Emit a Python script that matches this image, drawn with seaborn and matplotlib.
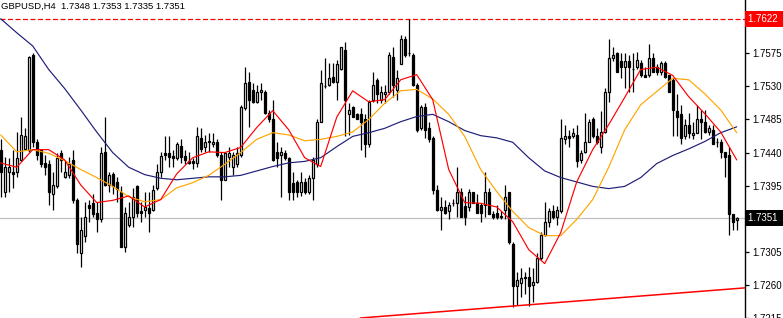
import numpy as np
import pandas as pd
import matplotlib
matplotlib.use("Agg")
import matplotlib.pyplot as plt
import seaborn as sns

symbol_title = "GBPUSD,H4  1.7348 1.7353 1.7335 1.7351"

opens = [1.7444,1.7387,1.7413,1.7414,1.7413,1.7430,1.7445,1.7444,1.7573,1.7455,
         1.7443,1.7426,1.7424,1.7383,1.7394,1.7440,1.7407,1.7410,1.7430,1.7375,
         1.7304,1.7326,1.7369,1.7372,1.7358,1.7349,1.7441,1.7396,1.7411,1.7400,
         1.7387,1.7312,1.7342,1.7353,1.7394,1.7360,1.7362,1.7364,1.7362,1.7392,
         1.7413,1.7440,1.7440,1.7436,1.7432,1.7449,1.7436,1.7428,1.7428,1.7426,
         1.7460,1.7447,1.7456,1.7452,1.7454,1.7437,1.7403,1.7434,1.7421,1.7425,
         1.7437,1.7501,1.7536,1.7525,1.7509,1.7523,1.7523,1.7494,1.7485,1.7441,
         1.7437,1.7440,1.7433,1.7399,1.7400,1.7386,1.7400,1.7386,1.7406,1.7424,
         1.7482,1.7531,1.7532,1.7543,1.7536,1.7554,1.7580,1.7492,1.7502,1.7492,
         1.7492,1.7485,1.7451,1.7512,1.7539,1.7512,1.7520,1.7522,1.7570,1.7525,
         1.7561,1.7595,1.7576,1.7573,1.7532,1.7473,1.7502,1.7474,1.7460,1.7389,
         1.7362,1.7366,1.7360,1.7371,1.7372,1.7387,1.7368,1.7366,1.7386,1.7372,
         1.7369,1.7369,1.7386,1.7356,1.7358,1.7352,1.7362,1.7386,1.7315,1.7258,
         1.7263,1.7271,1.7271,1.7260,1.7264,1.7297,1.7328,1.7345,1.7360,1.7352,
         1.7360,1.7459,1.7462,1.7462,1.7464,1.7430,1.7441,1.7455,1.7485,1.7462,
         1.7447,1.7468,1.7523,1.7568,1.7576,1.7564,1.7557,1.7564,1.7554,1.7556,
         1.7562,1.7546,1.7546,1.7568,1.7556,1.7549,1.7562,1.7545,1.7539,1.7496,
         1.7492,1.7462,1.7477,1.7464,1.7467,1.7486,1.7482,1.7468,1.7471,1.7455,
         1.7454,1.7441,1.7437,1.7356,1.7348]
highs = [1.7458,1.7434,1.7433,1.7444,1.7468,1.7489,1.7474,1.7571,1.7576,1.7458,
         1.7444,1.7437,1.7430,1.7413,1.7440,1.7444,1.7430,1.7434,1.7444,1.7378,
         1.7352,1.7373,1.7375,1.7383,1.7373,1.7448,1.7488,1.7414,1.7414,1.7407,
         1.7394,1.7366,1.7373,1.7392,1.7396,1.7373,1.7386,1.7386,1.7396,1.7424,
         1.7441,1.7462,1.7462,1.7444,1.7455,1.7458,1.7444,1.7441,1.7433,1.7475,
         1.7474,1.7464,1.7467,1.7467,1.7458,1.7441,1.7441,1.7447,1.7441,1.7447,
         1.7505,1.7556,1.7550,1.7535,1.7532,1.7535,1.7525,1.7498,1.7512,1.7455,
         1.7448,1.7444,1.7434,1.7413,1.7403,1.7414,1.7405,1.7410,1.7434,1.7485,
         1.7552,1.7569,1.7562,1.7562,1.7566,1.7583,1.7591,1.7508,1.7504,1.7494,
         1.7501,1.7492,1.7512,1.7549,1.7542,1.7530,1.7532,1.7577,1.7583,1.7552,
         1.7600,1.7598,1.7622,1.7576,1.7535,1.7505,1.7508,1.7482,1.7462,1.7396,
         1.7379,1.7375,1.7373,1.7377,1.7420,1.7392,1.7381,1.7390,1.7387,1.7383,
         1.7372,1.7413,1.7392,1.7360,1.7369,1.7360,1.7396,1.7387,1.7318,1.7278,
         1.7283,1.7278,1.7285,1.7283,1.7304,1.7332,1.7373,1.7365,1.7369,1.7368,
         1.7485,1.7477,1.7471,1.7474,1.7478,1.7444,1.7494,1.7485,1.7488,1.7474,
         1.7496,1.7528,1.7595,1.7583,1.7577,1.7576,1.7576,1.7573,1.7576,1.7577,
         1.7566,1.7557,1.7587,1.7576,1.7560,1.7564,1.7564,1.7546,1.7542,1.7519,
         1.7505,1.7485,1.7494,1.7481,1.7505,1.7498,1.7498,1.7478,1.7478,1.7460,
         1.7458,1.7441,1.7447,1.7356,1.7353]
lows = [1.7379,1.7379,1.7387,1.7392,1.7407,1.7428,1.7444,1.7441,1.7448,1.7430,
        1.7420,1.7410,1.7369,1.7362,1.7392,1.7413,1.7406,1.7405,1.7372,1.7304,
        1.7285,1.7319,1.7345,1.7353,1.7332,1.7346,1.7394,1.7387,1.7383,1.7373,
        1.7311,1.7305,1.7339,1.7339,1.7353,1.7345,1.7353,1.7332,1.7360,1.7389,
        1.7407,1.7430,1.7421,1.7420,1.7430,1.7426,1.7424,1.7424,1.7417,1.7421,
        1.7441,1.7441,1.7441,1.7447,1.7434,1.7375,1.7403,1.7421,1.7410,1.7421,
        1.7434,1.7498,1.7475,1.7508,1.7508,1.7512,1.7493,1.7482,1.7428,1.7420,
        1.7380,1.7430,1.7375,1.7375,1.7380,1.7381,1.7383,1.7383,1.7375,1.7421,
        1.7481,1.7528,1.7531,1.7535,1.7512,1.7552,1.7462,1.7464,1.7488,1.7485,
        1.7444,1.7434,1.7448,1.7509,1.7508,1.7508,1.7508,1.7519,1.7516,1.7512,
        1.7560,1.7570,1.7572,1.7530,1.7468,1.7471,1.7460,1.7455,1.7383,1.7360,
        1.7335,1.7356,1.7349,1.7368,1.7353,1.7352,1.7342,1.7360,1.7371,1.7358,
        1.7346,1.7352,1.7356,1.7349,1.7349,1.7349,1.7349,1.7315,1.7230,1.7233,
        1.7244,1.7247,1.7232,1.7237,1.7263,1.7294,1.7326,1.7339,1.7349,1.7342,
        1.7358,1.7451,1.7447,1.7460,1.7420,1.7426,1.7440,1.7454,1.7460,1.7451,
        1.7440,1.7467,1.7509,1.7564,1.7549,1.7542,1.7528,1.7523,1.7523,1.7553,
        1.7543,1.7543,1.7543,1.7549,1.7546,1.7546,1.7542,1.7522,1.7462,1.7462,
        1.7451,1.7458,1.7460,1.7458,1.7467,1.7458,1.7467,1.7464,1.7451,1.7447,
        1.7433,1.7407,1.7328,1.7335,1.7335]
closes = [1.7414,1.7420,1.7420,1.7411,1.7432,1.7464,1.7463,1.7570,1.7454,1.7437,
          1.7424,1.7421,1.7386,1.7396,1.7432,1.7430,1.7413,1.7424,1.7375,1.7315,
          1.7335,1.7352,1.7365,1.7356,1.7349,1.7440,1.7396,1.7410,1.7394,1.7390,
          1.7312,1.7358,1.7353,1.7380,1.7358,1.7358,1.7366,1.7358,1.7389,1.7414,
          1.7436,1.7437,1.7434,1.7433,1.7451,1.7434,1.7430,1.7426,1.7426,1.7462,
          1.7445,1.7455,1.7455,1.7455,1.7437,1.7403,1.7440,1.7440,1.7437,1.7440,
          1.7502,1.7535,1.7512,1.7509,1.7523,1.7525,1.7494,1.7485,1.7430,1.7433,
          1.7441,1.7433,1.7387,1.7387,1.7387,1.7400,1.7386,1.7406,1.7430,1.7482,
          1.7535,1.7530,1.7542,1.7536,1.7560,1.7583,1.7512,1.7498,1.7489,1.7486,
          1.7482,1.7451,1.7509,1.7532,1.7519,1.7523,1.7522,1.7573,1.7532,1.7541,
          1.7595,1.7573,1.7575,1.7532,1.7471,1.7502,1.7471,1.7458,1.7389,1.7362,
          1.7366,1.7358,1.7369,1.7372,1.7387,1.7353,1.7353,1.7386,1.7372,1.7358,
          1.7358,1.7386,1.7356,1.7353,1.7353,1.7354,1.7380,1.7318,1.7258,1.7267,
          1.7270,1.7270,1.7258,1.7264,1.7297,1.7328,1.7345,1.7361,1.7352,1.7362,
          1.7460,1.7462,1.7460,1.7467,1.7428,1.7440,1.7455,1.7481,1.7462,1.7455,
          1.7468,1.7523,1.7569,1.7573,1.7550,1.7556,1.7564,1.7556,1.7553,1.7566,
          1.7546,1.7543,1.7568,1.7550,1.7549,1.7562,1.7543,1.7523,1.7498,1.7489,
          1.7460,1.7477,1.7467,1.7467,1.7486,1.7481,1.7468,1.7474,1.7452,1.7454,
          1.7441,1.7434,1.7356,1.7345,1.7351]

# moving averages every 4th bar
ma_bars = list(range(0, 185, 4))
ma_fast = [1.7426,1.7420,1.7444,1.7444,1.7430,1.7396,1.7372,1.7375,1.7381,1.7366,
           1.7376,1.7411,1.7433,1.7441,1.7440,1.7447,1.7474,1.7497,1.7471,1.7433,
           1.7421,1.7488,1.7524,1.7509,1.7512,1.7539,1.7546,1.7512,1.7417,1.7372,
           1.7371,1.7366,1.7346,1.7308,1.7289,1.7331,1.7400,1.7444,1.7478,1.7515,
           1.7553,1.7556,1.7545,1.7516,1.7493,1.7468,1.7430]
ma_mid = [1.7464,1.7441,1.7444,1.7439,1.7429,1.7417,1.7406,1.7394,1.7380,1.7373,
          1.7376,1.7392,1.7399,1.7409,1.7424,1.7440,1.7458,1.7467,1.7464,1.7456,
          1.7458,1.7462,1.7468,1.7485,1.7507,1.7524,1.7526,1.7513,1.7492,1.7462,
          1.7417,1.7387,1.7360,1.7338,1.7327,1.7327,1.7349,1.7376,1.7420,1.7471,
          1.7505,1.7523,1.7541,1.7539,1.7520,1.7498,1.7467]
ma_slow = [1.7622,1.7603,1.7585,1.7553,1.7527,1.7498,1.7468,1.7440,1.7420,1.7410,
           1.7405,1.7403,1.7405,1.7407,1.7407,1.7409,1.7415,1.7421,1.7426,1.7428,
           1.7433,1.7448,1.7462,1.7467,1.7473,1.7482,1.7489,1.7492,1.7482,1.7470,
           1.7463,1.7460,1.7454,1.7433,1.7415,1.7406,1.7400,1.7394,1.7391,1.7394,
           1.7406,1.7425,1.7436,1.7445,1.7455,1.7467,1.7475]

trend_bars = [89.9, 186.1]
trend_prices = [1.7215, 1.7256]

high_level = 1.7622
last_price = 1.7351
tick_values = [1.7215, 1.7260, 1.7305, 1.7395, 1.7440, 1.7485, 1.7530, 1.7575]

sns.set_style("white")
plt.rcParams["font.family"] = ["Liberation Sans", "DejaVu Sans"]

W, H = 783, 318
fig = plt.figure(figsize=(W / 100, H / 100), dpi=100)
ax = fig.add_axes([0, 0, 745 / W, 1])

df = pd.DataFrame({"bar": np.arange(len(closes)), "open": opens, "high": highs,
                   "low": lows, "close": closes})
ma = pd.DataFrame({"bar": ma_bars, "fast": ma_fast, "mid": ma_mid, "slow": ma_slow})

ax.axhline(last_price, color="#c0c0c0", lw=0.9, zorder=1)
ax.axhline(high_level, color="#ff0000", lw=0.9, dashes=(4, 2), zorder=1)

ax.vlines(df["bar"], df["low"], df["high"], color="black", lw=0.9, zorder=2)
up = df["close"] >= df["open"]
bottom = np.minimum(df["open"], df["close"])
height = np.maximum((df["close"] - df["open"]).abs(), 0.00002)
ax.bar(df["bar"][up], height[up], bottom=bottom[up], width=0.5,
       facecolor="white", edgecolor="black", linewidth=0.9, zorder=3)
ax.bar(df["bar"][~up], height[~up], bottom=bottom[~up], width=0.5,
       facecolor="black", edgecolor="black", linewidth=0.9, zorder=3)

sns.lineplot(data=ma, x="bar", y="slow", color="#1e1e78", lw=0.85, ax=ax, zorder=4)
sns.lineplot(data=ma, x="bar", y="mid", color="#ffa500", lw=0.85, ax=ax, zorder=4)
sns.lineplot(data=ma, x="bar", y="fast", color="#ff0000", lw=0.85, ax=ax, zorder=5)
ax.plot(trend_bars, trend_prices, color="#ff0000", lw=1.1, zorder=5)

ax.set_xlim(-0.175, 186.075)
ax.set_ylim(1.76475 - 0.000136 * 318, 1.76475)
ax.set_xticks([])
ax.set_xlabel("")
ax.set_ylabel("")
ax.yaxis.tick_right()
ax.set_yticks(tick_values)
ax.set_yticklabels([f"{v:.4f}" for v in tick_values])
ax.tick_params(axis="y", which="both", right=True, left=False, length=3,
               width=0.9, pad=2, labelsize=7.0, colors="black")
for s in ["left", "top", "bottom"]:
    ax.spines[s].set_visible(False)
ax.spines["right"].set_visible(True)
ax.spines["right"].set_color("black")
ax.spines["right"].set_linewidth(1.0)

ytr = ax.get_yaxis_transform()
ax.text(1.004, high_level, "1.7622 ", transform=ytr, ha="left", va="center",
        color="white", fontsize=7.0, clip_on=False,
        bbox=dict(boxstyle="square,pad=0.3", fc="#ff0000", ec="none"))
ax.text(1.004, last_price, "1.7351 ", transform=ytr, ha="left", va="center",
        color="white", fontsize=7.0, clip_on=False,
        bbox=dict(boxstyle="square,pad=0.3", fc="black", ec="none"))

fig.text(1 / W, 1 - 2 / H, symbol_title, ha="left", va="top", fontsize=6.8,
         color="black")

fig.savefig("out.png", dpi=100)
